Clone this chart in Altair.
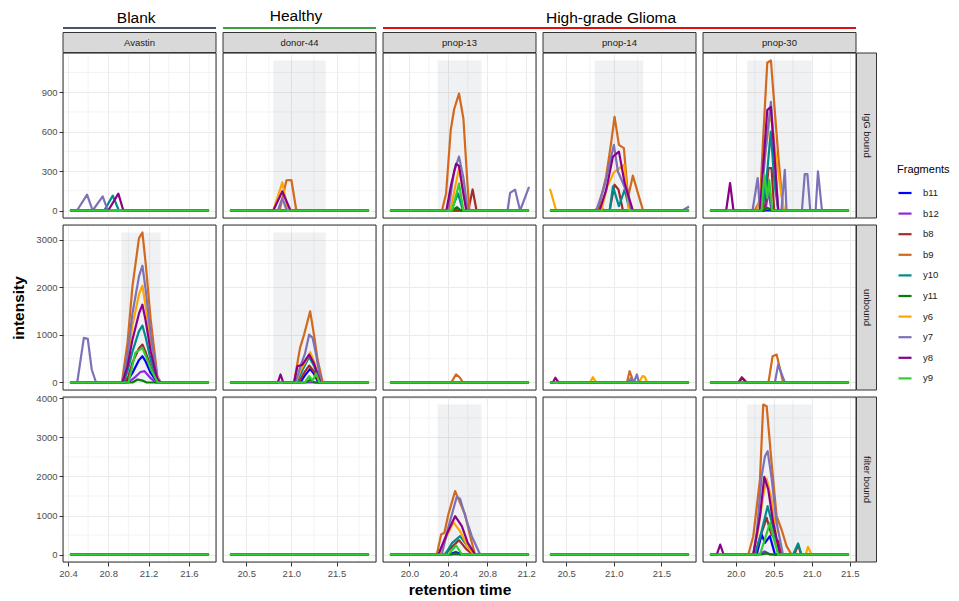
import altair as alt
import pandas as pd

FONT = "Liberation Sans"

FRAGMENTS = ["b11", "b12", "b8", "b9", "y10", "y11", "y6", "y7", "y8", "y9"]
FRAGMENT_COLORS = ["#0000FF", "#8A2BE2", "#A52A2A", "#D2691E", "#008B8B",
                   "#008000", "#FFA500", "#7B72B8", "#8B008B", "#32CD32"]

SAMPLES = ["Avastin", "donor-44", "pnop-13", "pnop-14", "pnop-30"]
CONDITIONS = ["IgG bound", "unbound", "filter bound"]

GROUP_NAMES = ["Blank", "Healthy", "High-grade Glioma"]
GROUP_COLORS = ["#46546F", "#3BA23B", "#E01010"]
GROUP_FIRST_COL = [0, 1, 2]
GROUP_NCOLS = [1, 1, 3]

# retention-time window measured for each sample
RT_START = [20.42, 20.32, 19.80, 20.33, 19.66]
RT_END = [21.80, 21.86, 21.23, 21.79, 21.49]

X_DOMAIN = [[20.351, 21.869], [20.243, 21.937], [19.7285, 21.3015],
            [20.257, 21.863], [19.5685, 21.5815]]
X_TICKS = [[20.4, 20.8, 21.2, 21.6], [20.5, 21.0, 21.5], [20.0, 20.4, 20.8, 21.2],
           [20.5, 21.0, 21.5], [20.0, 20.5, 21.0, 21.5]]
X_MINOR = [[20.6, 21.0, 21.4, 21.8], [20.75, 21.25, 21.75], [19.8, 20.2, 20.6, 21.0],
           [20.75, 21.25, 21.75], [19.75, 20.25, 20.75, 21.25]]
Y_DOMAIN = [[-57, 1198], [-158, 3309], [-192, 4038]]
Y_TICKS = [[0, 300, 600, 900], [0, 1000, 2000, 3000], [0, 1000, 2000, 3000, 4000]]
Y_MINOR = [[150, 450, 750, 1050], [500, 1500, 2500], [500, 1500, 2500, 3500]]

# highlighted elution windows (condition, sample) -> (rt from, rt to)
WINDOWS = {
    ("IgG bound", "donor-44"): (20.80, 21.38),
    ("IgG bound", "pnop-13"): (20.29, 20.74),
    ("IgG bound", "pnop-14"): (20.80, 21.31),
    ("IgG bound", "pnop-30"): (20.15, 21.00),
    ("unbound", "Avastin"): (20.93, 21.32),
    ("unbound", "donor-44"): (20.80, 21.38),
    ("filter bound", "pnop-13"): (20.29, 20.74),
    ("filter bound", "pnop-30"): (20.15, 21.00),
}
WINDOW_TOP = [1141, 3151, 3846]

# ---- peaks (retention time, intensity); elsewhere intensity is 0 ----
IGG_AVASTIN = {
    "y7": [(20.49, 0), (20.59, 121), (20.645, 0), (20.745, 108), (20.795, 0)],
    "y10": [(20.76, 0), (20.845, 113), (20.905, 0)],
    "y8": [(20.80, 0), (20.90, 128), (20.95, 0)],
}
IGG_DONOR44 = {
    "b9": [(20.87, 0), (20.945, 229), (21.00, 232), (21.055, 0)],
    "y6": [(20.80, 0), (20.90, 214), (20.96, 0)],
    "y7": [(20.85, 0), (20.90, 95), (20.95, 0)],
    "y8": [(20.80, 0), (20.90, 146), (20.99, 0)],
}
IGG_PNOP13 = {
    "b8": [(20.605, 0), (20.65, 160), (20.69, 0)],
    "b9": [(20.335, 0), (20.377, 128), (20.425, 612), (20.46, 770), (20.51, 889),
           (20.555, 700), (20.596, 211), (20.617, 0)],
    "y10": [(20.43, 0), (20.50, 130), (20.55, 0)],
    "y11": [(20.44, 0), (20.49, 25), (20.53, 0)],
    "y6": [(20.42, 0), (20.51, 322), (20.59, 0)],
    "y7": [(20.40, 0), (20.46, 300), (20.51, 410), (20.555, 250), (20.60, 0),
           (21.01, 0), (21.035, 134), (21.086, 159), (21.138, 0), (21.23, 179)],
    "y8": [(20.38, 0), (20.43, 200), (20.48, 355), (20.51, 340), (20.55, 150), (20.585, 0)],
    "y9": [(20.44, 0), (20.51, 204), (20.555, 0)],
}
IGG_PNOP14 = {
    "b12": [(20.80, 0), (20.85, 30), (20.90, 0)],
    "b8": [(20.956, 0), (21.008, 196), (21.05, 159), (21.096, 0)],
    "b9": [(20.833, 0), (20.92, 259), (20.974, 524), (21.008, 713), (21.054, 499),
           (21.106, 474), (21.15, 100), (21.20, 265), (21.307, 0)],
    "y10": [(20.957, 0), (20.991, 184), (21.054, 33), (21.114, 159), (21.166, 0)],
    "y6": [(20.33, 165), (20.395, 0), (20.87, 0), (20.93, 180), (21.00, 290),
           (21.11, 348), (21.16, 0)],
    "y7": [(20.816, 0), (20.90, 180), (21.001, 499), (21.043, 297), (21.096, 209),
           (21.15, 108), (21.184, 0), (21.72, 0), (21.79, 30)],
    "y8": [(20.85, 0), (20.921, 159), (20.991, 410), (21.054, 448), (21.114, 209), (21.20, 0)],
}
IGG_PNOP30 = {
    "b12": [(20.39, 0), (20.43, 150), (20.47, 0)],
    "b8": [(20.38, 0), (20.43, 323), (20.47, 323), (20.505, 0)],
    "b9": [(20.25, 0), (20.32, 80), (20.36, 550), (20.414, 1124), (20.462, 1141),
           (20.51, 780), (20.558, 423), (20.623, 0)],
    "y10": [(20.35, 0), (20.414, 300), (20.46, 600), (20.51, 200), (20.56, 0)],
    "y11": [(20.36, 0), (20.42, 20), (20.47, 0)],
    "y6": [(20.28, 0), (20.318, 96), (20.36, 297), (20.44, 675), (20.47, 700),
           (20.53, 400), (20.60, 121), (20.636, 0)],
    "y7": [(20.22, 0), (20.288, 247), (20.318, 0), (20.40, 500), (20.462, 826),
           (20.50, 500), (20.558, 0), (20.60, 0), (20.645, 310), (20.667, 0),
           (20.87, 0), (20.907, 277), (20.942, 277), (20.98, 0),
           (21.05, 0), (21.081, 297), (21.134, 0)],
    "y8": [(19.873, 0), (19.925, 209), (19.969, 0), (20.318, 0), (20.414, 763),
           (20.462, 788), (20.51, 400), (20.558, 0)],
    "y9": [(20.34, 0), (20.374, 272), (20.414, 96), (20.44, 234), (20.48, 0)],
}
UNB_AVASTIN = {
    "b11": [(20.98, 0), (21.04, 200), (21.105, 470), (21.139, 552), (21.171, 440),
            (21.221, 200), (21.287, 0)],
    "b12": [(21.0, 0), (21.06, 100), (21.12, 220), (21.16, 237), (21.221, 90), (21.27, 0)],
    "b8": [(20.96, 0), (21.0, 130), (21.04, 420), (21.105, 720), (21.139, 797),
           (21.171, 640), (21.221, 320), (21.287, 20), (21.32, 0)],
    "b9": [(20.936, 0), (20.991, 832), (21.04, 2019), (21.105, 3033), (21.139, 3151),
           (21.171, 2509), (21.221, 1321), (21.287, 132), (21.319, 0)],
    "y10": [(20.95, 0), (20.99, 230), (21.04, 650), (21.105, 1080), (21.139, 1195),
            (21.171, 950), (21.221, 470), (21.287, 40), (21.32, 0)],
    "y11": [(21.04, 0), (21.09, 63), (21.14, 40), (21.18, 0)],
    "y6": [(20.94, 0), (20.99, 450), (21.04, 1200), (21.105, 1850), (21.139, 2034),
           (21.171, 1600), (21.221, 820), (21.287, 80), (21.32, 0)],
    "y7": [(20.492, 0), (20.558, 937), (20.597, 916), (20.636, 273), (20.679, 0),
           (20.94, 0), (20.99, 560), (21.04, 1450), (21.105, 2230), (21.139, 2453),
           (21.171, 1950), (21.221, 1000), (21.287, 100), (21.32, 0)],
    "y8": [(20.94, 0), (20.99, 330), (21.04, 900), (21.105, 1450), (21.139, 1635),
           (21.171, 1300), (21.221, 650), (21.287, 60), (21.32, 0)],
    "y9": [(21.0, 0), (21.04, 350), (21.07, 629), (21.139, 727), (21.171, 560),
           (21.221, 290), (21.29, 0)],
}
UNB_DONOR44 = {
    "b11": [(21.10, 0), (21.15, 150), (21.208, 287), (21.25, 180), (21.30, 0)],
    "b8": [(21.08, 0), (21.14, 200), (21.197, 356), (21.25, 230), (21.31, 0)],
    "b9": [(21.03, 0), (21.096, 727), (21.141, 1006), (21.208, 1495), (21.253, 971),
           (21.29, 482), (21.347, 0)],
    "y10": [(21.06, 0), (21.12, 250), (21.197, 538), (21.25, 350), (21.30, 100), (21.33, 0)],
    "y11": [(21.15, 0), (21.208, 50), (21.26, 0)],
    "y6": [(21.05, 0), (21.10, 250), (21.15, 420), (21.208, 636), (21.25, 450),
           (21.29, 200), (21.33, 0)],
    "y7": [(21.048, 0), (21.10, 342), (21.15, 600), (21.197, 1006), (21.235, 937),
           (21.27, 622), (21.328, 0)],
    "y8": [(20.85, 0), (20.88, 168), (20.91, 0), (21.03, 0), (21.067, 342), (21.12, 370),
           (21.197, 587), (21.25, 400), (21.32, 0)],
    "y9": [(21.15, 0), (21.197, 132), (21.235, 40), (21.275, 189), (21.31, 0)],
}
UNB_PNOP13 = {
    "b9": [(20.43, 0), (20.48, 170), (20.52, 100), (20.55, 0)],
}
UNB_PNOP14 = {
    "b9": [(21.138, 0), (21.166, 237), (21.208, 0)],
    "y6": [(20.75, 0), (20.78, 112), (20.816, 0), (21.264, 0), (21.30, 132),
           (21.324, 125), (21.349, 0)],
    "y7": [(21.15, 0), (21.18, 90), (21.21, 0), (21.243, 168), (21.264, 0)],
    "y8": [(20.36, 0), (20.387, 99), (20.42, 0)],
}
UNB_PNOP30 = {
    "b8": [(20.034, 0), (20.079, 111), (20.144, 0)],
    "b9": [(20.43, 0), (20.484, 552), (20.537, 587), (20.623, 0)],
    "y7": [(20.514, 0), (20.558, 377), (20.645, 0)],
    "y8": [(20.03, 0), (20.085, 90), (20.14, 0)],
}
FIL_PNOP13 = {
    "b11": [(20.40, 0), (20.48, 60), (20.55, 0)],
    "b8": [(20.36, 0), (20.44, 200), (20.51, 368), (20.58, 150), (20.65, 0)],
    "b9": [(20.282, 0), (20.326, 513), (20.36, 560), (20.40, 1026), (20.47, 1624),
           (20.521, 1325), (20.572, 1026), (20.624, 470), (20.675, 0)],
    "y10": [(20.367, 0), (20.44, 300), (20.521, 470), (20.60, 200), (20.675, 0)],
    "y11": [(20.42, 0), (20.48, 30), (20.53, 0)],
    "y6": [(20.30, 0), (20.38, 450), (20.452, 829), (20.52, 600), (20.60, 200), (20.66, 0)],
    "y7": [(20.333, 0), (20.40, 700), (20.487, 1479), (20.521, 1428), (20.59, 855),
           (20.641, 470), (20.727, 0)],
    "y8": [(20.298, 0), (20.38, 500), (20.47, 983), (20.539, 726), (20.60, 300), (20.675, 0)],
    "y9": [(20.40, 0), (20.48, 231), (20.54, 0)],
}
FIL_PNOP30 = {
    "b11": [(20.275, 0), (20.34, 513), (20.384, 299), (20.449, 470), (20.515, 0)],
    "b12": [(20.30, 0), (20.38, 80), (20.45, 0)],
    "b8": [(20.25, 0), (20.33, 500), (20.406, 940), (20.47, 500), (20.558, 342),
           (20.60, 0), (20.77, 0), (20.82, 250), (20.86, 0)],
    "b9": [(20.165, 0), (20.23, 470), (20.318, 1923), (20.361, 3846), (20.406, 3803),
           (20.471, 2350), (20.537, 983), (20.602, 641), (20.668, 214), (20.733, 0)],
    "y10": [(20.253, 0), (20.34, 600), (20.419, 1239), (20.49, 700), (20.56, 0),
            (20.754, 0), (20.82, 282), (20.864, 0)],
    "y11": [(20.33, 0), (20.40, 30), (20.47, 0)],
    "y6": [(20.23, 0), (20.30, 700), (20.36, 1500), (20.406, 1940), (20.471, 1410),
           (20.56, 0), (20.92, 0), (20.95, 197), (20.995, 0)],
    "y7": [(20.23, 0), (20.275, 556), (20.34, 2008), (20.384, 2521), (20.419, 2650),
           (20.471, 1966), (20.537, 812), (20.62, 0)],
    "y8": [(19.75, 0), (19.795, 256), (19.84, 0), (20.23, 0), (20.318, 983),
           (20.375, 1991), (20.427, 1667), (20.492, 812), (20.58, 0)],
    "y9": [(20.318, 0), (20.40, 500), (20.449, 812), (20.50, 400), (20.558, 0)],
}

PEAKS = {
    ("IgG bound", "Avastin"): IGG_AVASTIN,
    ("IgG bound", "donor-44"): IGG_DONOR44,
    ("IgG bound", "pnop-13"): IGG_PNOP13,
    ("IgG bound", "pnop-14"): IGG_PNOP14,
    ("IgG bound", "pnop-30"): IGG_PNOP30,
    ("unbound", "Avastin"): UNB_AVASTIN,
    ("unbound", "donor-44"): UNB_DONOR44,
    ("unbound", "pnop-13"): UNB_PNOP13,
    ("unbound", "pnop-14"): UNB_PNOP14,
    ("unbound", "pnop-30"): UNB_PNOP30,
    ("filter bound", "pnop-13"): FIL_PNOP13,
    ("filter bound", "pnop-30"): FIL_PNOP30,
}

W, H = 153, 165


def build_series(peaks, start, end):
    rows = []
    for f in FRAGMENTS:
        pts = list(peaks.get(f, []))
        if not pts or pts[0][0] > start + 1e-6:
            pts = [(start, 0)] + pts
        if pts[-1][0] < end - 1e-6:
            pts = pts + [(end, 0)]
        for t, v in pts:
            rows.append({"Fragment": f, "rt": t, "intensity": v})
    return pd.DataFrame(rows)


LEGEND = alt.Legend(
    title="Fragments", orient="none", legendX=834, legendY=111,
    symbolType="stroke", symbolStrokeWidth=2.2, symbolSize=170,
    titleFontSize=11, titleFontWeight="normal", titleColor="black", titleFont=FONT,
    labelFontSize=9.5, labelColor="#1A1A1A", labelFont=FONT,
    rowPadding=7.6, titlePadding=10, labelOffset=10, padding=0,
)


def x_axis(r, c):
    kw = dict(values=X_TICKS[c], grid=True, gridColor="#EBEBEB", gridWidth=1, domain=False)
    if r == len(CONDITIONS) - 1:
        kw.update(labels=True, ticks=True, tickSize=4, tickColor="#333333", tickWidth=1,
                  format=".1f", labelFontSize=9.5, labelColor="#4D4D4D", labelPadding=2,
                  labelFont=FONT, labelFlush=False, labelOverlap=False)
        if c == 2:
            kw.update(title="retention time", titleFontSize=15.5, titleFontWeight="bold",
                      titleColor="black", titleFont=FONT, titlePadding=5)
        else:
            kw["title"] = None
    else:
        kw.update(labels=False, ticks=False, title=None)
    return alt.Axis(**kw)


def y_axis(r, c):
    kw = dict(values=Y_TICKS[r], grid=True, gridColor="#EBEBEB", gridWidth=1, domain=False)
    if c == 0:
        kw.update(labels=True, ticks=True, tickSize=4, tickColor="#333333", tickWidth=1,
                  format="d", labelFontSize=9.5, labelColor="#4D4D4D", labelPadding=2,
                  labelFont=FONT, labelFlush=False, labelOverlap=False)
        if r == 1:
            kw.update(title="intensity", titleFontSize=15.5, titleFontWeight="bold",
                      titleColor="black", titleFont=FONT, titlePadding=9)
        else:
            kw["title"] = None
    else:
        kw.update(labels=False, ticks=False, title=None)
    return alt.Axis(**kw)


panels = []
for r, cond in enumerate(CONDITIONS):
    for c, samp in enumerate(SAMPLES):
        xs = alt.Scale(domain=X_DOMAIN[c], nice=False, zero=False)
        ys = alt.Scale(domain=Y_DOMAIN[r], nice=False, zero=False)
        xa = x_axis(r, c)
        ya = y_axis(r, c)
        X = alt.X("rt:Q", scale=xs, axis=xa)
        Y = alt.Y("intensity:Q", scale=ys, axis=ya)

        layers = []
        # minor grid
        layers.append(alt.Chart(pd.DataFrame({"rt": X_MINOR[c]}))
                      .mark_rule(color="#F0F0F0", strokeWidth=0.8).encode(x=X))
        layers.append(alt.Chart(pd.DataFrame({"intensity": Y_MINOR[r]}))
                      .mark_rule(color="#F0F0F0", strokeWidth=0.8).encode(y=Y))
        # highlighted window
        if (cond, samp) in WINDOWS:
            a, b = WINDOWS[(cond, samp)]
            wdf = pd.DataFrame({"rt": [a], "rt_end": [b], "intensity": [0],
                                "top": [WINDOW_TOP[r]]})
            layers.append(alt.Chart(wdf).mark_rect(fill="#708090", opacity=0.11)
                          .encode(x=X, x2="rt_end:Q", y=Y, y2="top:Q"))
        # chromatogram lines
        sdf = build_series(PEAKS.get((cond, samp), {}), RT_START[c], RT_END[c])
        layers.append(
            alt.Chart(sdf).mark_line(strokeWidth=2.2, strokeJoin="round")
            .encode(x=X, y=Y,
                    color=alt.Color("Fragment:N",
                                    scale=alt.Scale(domain=FRAGMENTS, range=FRAGMENT_COLORS),
                                    legend=LEGEND))
        )
        # panel border
        bdf = pd.DataFrame({"label": [samp]})
        layers.append(alt.Chart(bdf).mark_rect(fillOpacity=0, stroke="#333333", strokeWidth=1)
                      .encode(x=alt.value(0), x2=alt.value(W), y=alt.value(0), y2=alt.value(H)))
        # column strip
        if r == 0:
            lab = pd.DataFrame({"label": [samp]})
            layers.append(alt.Chart(lab).mark_rect(fill="#D9D9D9", stroke="#333333", strokeWidth=1)
                          .encode(x=alt.value(0), x2=alt.value(W), y=alt.value(-20.5), y2=alt.value(-0.5)))
            layers.append(alt.Chart(lab).mark_text(fontSize=9.5, color="#1A1A1A", font=FONT,
                                                   baseline="middle", align="center")
                          .encode(x=alt.value(W / 2), y=alt.value(-10.5), text="label:N"))
            if c in GROUP_FIRST_COL:
                g = GROUP_FIRST_COL.index(c)
                span = GROUP_NCOLS[g] * W + (GROUP_NCOLS[g] - 1) * 7
                gdf = pd.DataFrame({"label": [GROUP_NAMES[g]]})
                layers.append(alt.Chart(gdf).mark_rule(color=GROUP_COLORS[g], strokeWidth=2)
                              .encode(x=alt.value(0), x2=alt.value(span), y=alt.value(-25)))
                yoff = [-30, -32.5, -30.3][g]
                xoff = [73.2, 73.0, 228.0][g]
                layers.append(alt.Chart(gdf).mark_text(fontSize=15.5, color="black", font=FONT,
                                                       baseline="alphabetic", align="center")
                              .encode(x=alt.value(xoff), y=alt.value(yoff), text="label:N"))
        # row strip
        if c == len(SAMPLES) - 1:
            lab = pd.DataFrame({"label": [cond]})
            layers.append(alt.Chart(lab).mark_rect(fill="#D9D9D9", stroke="#333333", strokeWidth=1)
                          .encode(x=alt.value(W + 0.5), x2=alt.value(W + 20.5), y=alt.value(0), y2=alt.value(H)))
            layers.append(alt.Chart(lab).mark_text(fontSize=9.5, color="#1A1A1A", font=FONT,
                                                   baseline="middle", align="center", angle=90)
                          .encode(x=alt.value(W + 10.5), y=alt.value(H / 2), text="label:N"))

        panels.append(alt.layer(*layers).properties(width=W, height=H))

chart = (
    alt.concat(*panels, columns=5, spacing=7, bounds="flush",
               padding={"left": 3, "top": 0, "right": 0, "bottom": 3})
    .configure_view(stroke="#333333", strokeWidth=1)
    .configure(font=FONT, background="white")
)

chart.save("out.html", embed_options={"renderer": "svg", "actions": False})
